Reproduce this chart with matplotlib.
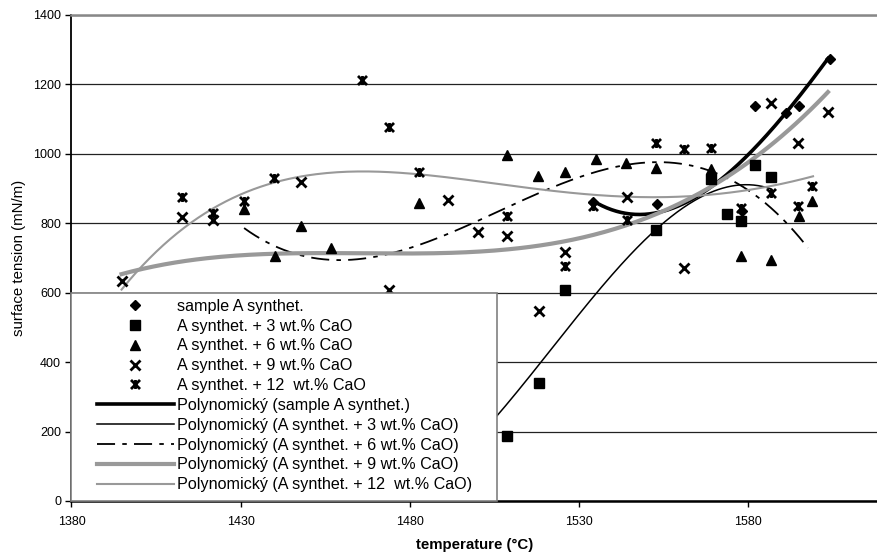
import numpy as np
import matplotlib
matplotlib.use('Agg')
import matplotlib.pyplot as plt
from matplotlib.path import Path
from matplotlib.patches import Rectangle

plt.rcParams['font.family'] = ['Liberation Sans', 'DejaVu Sans']

# measured data (temperature in degC, surface tension in mN/m)
t_a = [1534, 1553, 1578, 1582, 1591, 1595, 1604]
s_a = [860, 855, 835, 1137, 1118, 1137, 1272]

t_3 = [1508.8, 1518, 1525.8, 1552.8, 1568.9, 1573.7, 1577.9, 1581.9, 1586.8]
s_3 = [188, 340, 609, 780, 928, 828, 806, 969, 934]

t_6 = [1431, 1440, 1447.8, 1456.8, 1482.7, 1508.8, 1517.9, 1525.8, 1534.9,
       1543.8, 1552.8, 1568.9, 1577.9, 1586.8, 1594.9, 1598.9]
s_6 = [842, 705, 793, 729, 857, 998, 937, 947, 984,
       974, 960, 957, 705, 693, 822, 863]

t_9 = [1394.8, 1412.8, 1421.9, 1447.8, 1473.9, 1491.3, 1500, 1508.8, 1518,
       1525.8, 1544, 1561, 1586.8, 1594.6, 1603.5]
s_9 = [633, 817, 810, 918, 607, 868, 774, 764, 548,
       716, 877, 672, 1146, 1031, 1121]

t_12 = [1412.8, 1421.9, 1431, 1439.9, 1465.7, 1473.9, 1482.7, 1508.8, 1525.8,
        1534.1, 1544, 1552.8, 1560.9, 1568.9, 1577.9, 1586.8, 1594.6, 1598.9]
s_12 = [875, 830, 865, 931, 1214, 1077, 948, 822, 678,
        849, 810, 1032, 1015, 1017, 844, 887, 851, 907]

# trendline values (Excel polynomial trendlines)
ft_a = [1534, 1544, 1553, 1567.6, 1580.4, 1590.2, 1603.5]
fs_a = [862, 834, 832, 887, 1003, 1113, 1272]

ft_3 = [1500, 1505.6, 1518.4, 1530.2, 1534.1, 1552.8, 1566.6, 1578.4, 1586.8]
fs_3 = [180, 248, 397, 536, 589, 782, 883, 907, 900]

ft_6 = [1431, 1439.9, 1448.5, 1459.3, 1470.1, 1482.9, 1491.3, 1508.5, 1525.2,
        1541, 1554.8, 1569.5, 1586.3, 1597.6]
fs_6 = [787, 734, 705, 695, 705, 738, 772, 839, 916,
        969, 974, 945, 849, 729]

ft_9 = [1394.8, 1413, 1430.7, 1447.5, 1467.2, 1491.3, 1515.4, 1535.1, 1552.8,
        1567.6, 1584.3, 1603.5]
fs_9 = [652, 690, 710, 716, 716, 710, 733, 767, 820,
        892, 1032, 1166]

ft_12 = [1394.8, 1413, 1430.7, 1447.5, 1467.2, 1482.9, 1515.4, 1535.1, 1554.8,
         1574.5, 1599.1]
fs_12 = [599, 810, 878, 921, 947, 947, 907, 883, 870,
         887, 937]

labels = ['sample A synthet.', 'A synthet. + 3 wt.% CaO', 'A synthet. + 6 wt.% CaO',
          'A synthet. + 9 wt.% CaO', 'A synthet. + 12  wt.% CaO']

# Excel-style star marker: x with a vertical bar
star = Path([(-1, -1), (1, 1), (-1, 1), (1, -1), (0, -1), (0, 1)],
            [Path.MOVETO, Path.LINETO, Path.MOVETO, Path.LINETO, Path.MOVETO, Path.LINETO])

fig = plt.figure(figsize=(8.77, 5.55), dpi=100)
ax = fig.add_axes([0.0815, 0.0973, 0.9185, 0.8757])

ax.plot(t_a, s_a, 'D', color='black', ms=5, label=labels[0], zorder=3)
ax.plot(t_3, s_3, 's', color='black', ms=6.5, label=labels[1], zorder=3)
ax.plot(t_6, s_6, '^', color='black', ms=7, label=labels[2], zorder=3)
ax.plot(t_9, s_9, 'x', color='black', ms=6.5, mew=2, label=labels[3], zorder=3)
ax.plot(t_12, s_12, marker=star, ls='none', color='black', ms=6.5, mew=2,
        label=labels[4], zorder=3)


# smooth polynomial through the trendline readings
def trend(t, s, deg):
    p = np.poly1d(np.polyfit(np.array(t) - 1500, s, deg))
    x = np.linspace(min(t), max(t), 200)
    return x, p(x - 1500)


x, y = trend(ft_a, fs_a, 3)
ax.plot(x, y, color='black', lw=2.6, label='Polynomický (sample A synthet.)', zorder=2)
x, y = trend(ft_3, fs_3, 3)
ax.plot(x, y, color='black', lw=1.1, label='Polynomický (A synthet. + 3 wt.% CaO)', zorder=2)
x, y = trend(ft_6, fs_6, 3)
ax.plot(x, y, color='black', lw=1.3, ls=(0, (10, 4, 2.5, 4)),
        label='Polynomický (A synthet. + 6 wt.% CaO)', zorder=2)
x, y = trend(ft_9, fs_9, 3)
ax.plot(x, y, color='#999999', lw=3, label='Polynomický (A synthet. + 9 wt.% CaO)', zorder=2)
x, y = trend(ft_12, fs_12, 4)
ax.plot(x, y, color='#999999', lw=1.5, label='Polynomický (A synthet. + 12  wt.% CaO)', zorder=2)

ax.set_xlim(1380, 1618)
ax.set_ylim(0, 1400)
ax.set_xticks([1380, 1430, 1480, 1530, 1580])
ax.set_yticks(np.arange(0, 1401, 200))
ax.tick_params(labelsize=9, direction='out', length=4, width=1)
ax.tick_params(axis='x', pad=7)
ax.grid(axis='y', color='#222222', lw=0.9)
ax.set_axisbelow(True)
ax.spines['right'].set_visible(False)
ax.spines['top'].set_color('#888888')
ax.spines['top'].set_linewidth(1.8)
ax.spines['left'].set_linewidth(1.3)
ax.spines['bottom'].set_linewidth(1.8)

ax.set_xlabel('temperature (°C)', fontsize=10.8, fontweight='bold', labelpad=7)
ax.set_ylabel('surface tension (mN/m)', fontsize=10.8, labelpad=5)

# legend box covers the lower left corner of the plot
ax.add_patch(Rectangle((0, 0), 0.528, 0.4286, transform=ax.transAxes, facecolor='white',
                       edgecolor='#808080', lw=1.2, zorder=4, clip_on=False))
leg = ax.legend(loc='lower left', bbox_to_anchor=(0.0317, 0.018), borderaxespad=0,
                borderpad=0, fontsize=11.6, frameon=False, handlelength=4.75,
                handletextpad=0.24, labelspacing=0.3, numpoints=1)
leg.set_zorder(5)

fig.savefig('out.png', dpi=100)
